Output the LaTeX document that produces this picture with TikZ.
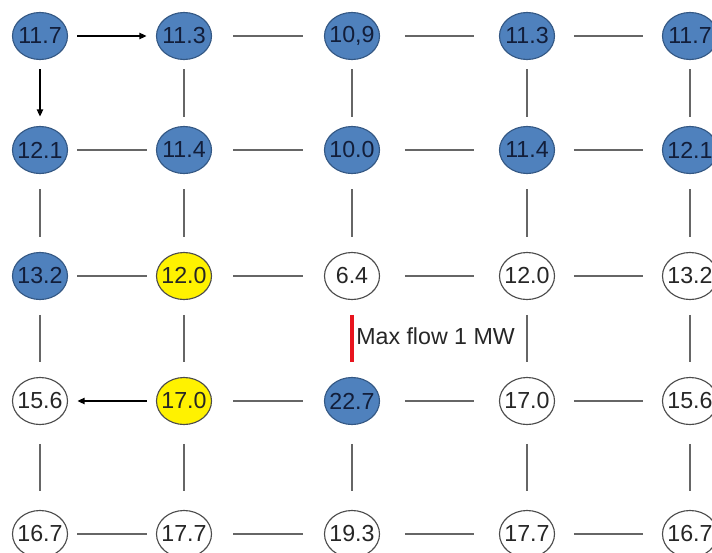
\documentclass[tikz,border=0pt]{standalone}
\usepackage{fontspec}
\setmainfont{Liberation Sans}
\usepackage{tikz}
\usetikzlibrary{arrows.meta,shapes.geometric,calc}
\definecolor{busblue}{RGB}{79,129,189}
\definecolor{busedge}{RGB}{52,88,132}
\definecolor{businkb}{RGB}{18,30,58}
\definecolor{maxred}{RGB}{232,20,30}

% wires sit centred between two buses, fixed length
\newcommand\hwire[3][wire]{\draw[#1] ($(#2)!.5!(#3)!.8625cm!(#2)$) -- ($(#2)!.5!(#3)!.8625cm!(#3)$);}
\newcommand\vwire[3][wire]{\draw[#1] ($(#2)!.5!(#3)!.5875cm!(#2)$) -- ($(#2)!.5!(#3)!.5875cm!(#3)$);}

\begin{document}
\begin{tikzpicture}[
  x=0.025cm, y=-0.025cm,
  every node/.style = {font=\fontsize{16.5}{18}\selectfont},
  bus/.style  = {ellipse, inner sep=0pt, line width=0.8pt,
                 minimum width=1.375cm, minimum height=1.175cm,
                 execute at begin node={\hbox to 0pt\bgroup\hss},
                 execute at end node={\hss\egroup}},
  blu/.style  = {bus, draw=busedge, fill=busblue, text=businkb},
  yel/.style  = {bus, draw=black!70, fill=yellow, text=black!85},
  wht/.style  = {bus, draw=black!70, fill=white, text=black!85},
  wire/.style = {draw=black!60, line width=1pt},
  flow/.style = {draw=black, line width=0.8pt,
                 -{Triangle[length=5pt,width=4.5pt]}},
  maxline/.style = {draw=maxred, line width=2.8pt},
]
\useasboundingbox (0,0) rectangle (712,553);
\clip (0,0) rectangle (712,553);

%% ── Grid positions (px) ──────────────────────────────────────────────────────
\def\cA{40}  \def\cB{184} \def\cC{352} \def\cD{527} \def\cE{690}
\def\rA{36}  \def\rB{150} \def\rC{276} \def\rD{401} \def\rE{534}

%% ── Row 1 ────────────────────────────────────────────────────────────────────
\node[blu] (b11) at (\cA,\rA) {11.7};
\node[blu] (b12) at (\cB,\rA) {11.3};
\node[blu] (b13) at (\cC,\rA) {10,9};
\node[blu] (b14) at (\cD,\rA) {11.3};
\node[blu] (b15) at (\cE,\rA) {11.7};

%% ── Row 2 ────────────────────────────────────────────────────────────────────
\node[blu] (b21) at (\cA,\rB) {12.1};
\node[blu] (b22) at (\cB,\rB) {11.4};
\node[blu] (b23) at (\cC,\rB) {10.0};
\node[blu] (b24) at (\cD,\rB) {11.4};
\node[blu] (b25) at (\cE,\rB) {12.1};

%% ── Row 3 ────────────────────────────────────────────────────────────────────
\node[blu] (b31) at (\cA,\rC) {13.2};
\node[yel] (b32) at (\cB,\rC) {12.0};
\node[wht] (b33) at (\cC,\rC) {6.4};
\node[wht] (b34) at (\cD,\rC) {12.0};
\node[wht] (b35) at (\cE,\rC) {13.2};

%% ── Row 4 ────────────────────────────────────────────────────────────────────
\node[wht] (b41) at (\cA,\rD) {15.6};
\node[yel] (b42) at (\cB,\rD) {17.0};
\node[blu] (b43) at (\cC,\rD) {22.7};
\node[wht] (b44) at (\cD,\rD) {17.0};
\node[wht] (b45) at (\cE,\rD) {15.6};

%% ── Row 5 ────────────────────────────────────────────────────────────────────
\node[wht] (b51) at (\cA,\rE) {16.7};
\node[wht] (b52) at (\cB,\rE) {17.7};
\node[wht] (b53) at (\cC,\rE) {19.3};
\node[wht] (b54) at (\cD,\rE) {17.7};
\node[wht] (b55) at (\cE,\rE) {16.7};

%% ── Horizontal wires ─────────────────────────────────────────────────────────
\hwire[flow]{b11}{b12} \hwire{b12}{b13} \hwire{b13}{b14} \hwire{b14}{b15}
\hwire{b21}{b22} \hwire{b22}{b23} \hwire{b23}{b24} \hwire{b24}{b25}
\hwire{b31}{b32} \hwire{b32}{b33} \hwire{b33}{b34} \hwire{b34}{b35}
\hwire[flow]{b42}{b41} \hwire{b42}{b43} \hwire{b43}{b44} \hwire{b44}{b45}
\hwire{b51}{b52} \hwire{b52}{b53} \hwire{b53}{b54} \hwire{b54}{b55}

%% ── Vertical wires ───────────────────────────────────────────────────────────
\vwire[flow]{b11}{b21} \vwire{b21}{b31} \vwire{b31}{b41} \vwire{b41}{b51}
\vwire{b12}{b22} \vwire{b22}{b32} \vwire{b32}{b42} \vwire{b42}{b52}
\vwire{b13}{b23} \vwire{b23}{b33} \vwire[maxline]{b33}{b43} \vwire{b43}{b53}
\vwire{b14}{b24} \vwire{b24}{b34} \vwire{b34}{b44} \vwire{b44}{b54}
\vwire{b15}{b25} \vwire{b25}{b35} \vwire{b35}{b45} \vwire{b45}{b55}

%% ── Limit label ──────────────────────────────────────────────────────────────
\node[anchor=west, inner sep=0pt, text=black!85] (maxflow) at (356,336) {Max flow 1 MW};

\end{tikzpicture}
\end{document}
